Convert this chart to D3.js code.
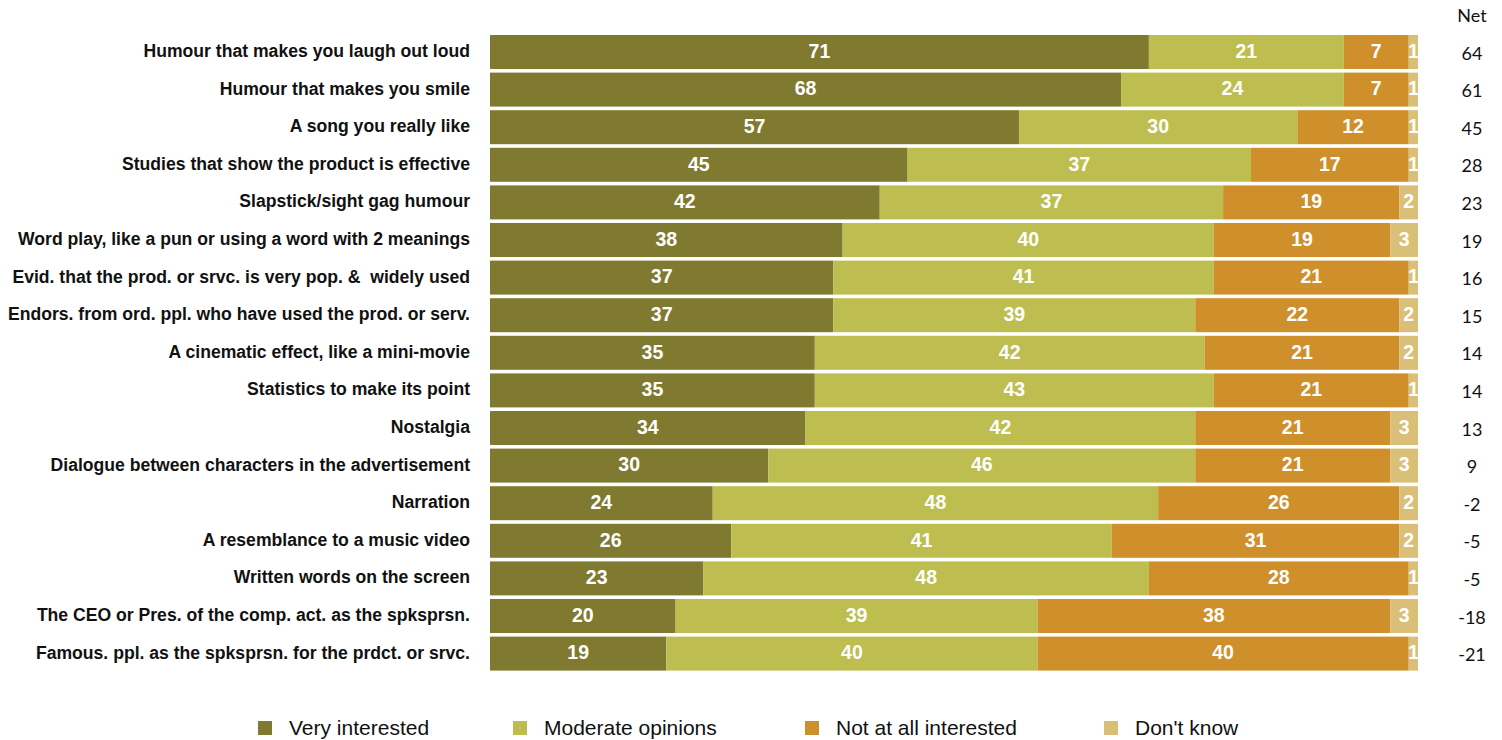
<!DOCTYPE html>
<html>
<head>
<meta charset="utf-8">
<script src="https://cdn.jsdelivr.net/npm/d3@7"></script>
<style>
  html, body { margin: 0; padding: 0; background: #fff; }
  svg { display: block; }
  text { white-space: pre; }
</style>
</head>
<body>
<svg id="chart" width="1502" height="740"></svg>
<script>
// Appeal of advertising elements: share of respondents per response, in percent
const categories = [
  "Humour that makes you laugh out loud",
  "Humour that makes you smile",
  "A song you really like",
  "Studies that show the product is effective",
  "Slapstick/sight gag humour",
  "Word play, like a pun or using a word with 2 meanings",
  "Evid. that the prod. or srvc. is very pop. &  widely used",
  "Endors. from ord. ppl. who have used the prod. or serv.",
  "A cinematic effect, like a mini-movie",
  "Statistics to make its point",
  "Nostalgia",
  "Dialogue between characters in the advertisement",
  "Narration",
  "A resemblance to a music video",
  "Written words on the screen",
  "The CEO or Pres. of the comp. act. as the spksprsn.",
  "Famous. ppl. as the spksprsn. for the prdct. or srvc."
];
const seriesNames = ["Very interested", "Moderate opinions", "Not at all interested", "Don't know"];
const veryInterested = [71, 68, 57, 45, 42, 38, 37, 37, 35, 35, 34, 30, 24, 26, 23, 20, 19];
const moderate       = [21, 24, 30, 37, 37, 40, 41, 39, 42, 43, 42, 46, 48, 41, 48, 39, 40];
const notAtAll       = [ 7,  7, 12, 17, 19, 19, 21, 22, 21, 21, 21, 21, 26, 31, 28, 38, 40];
const dontKnow       = [ 1,  1,  1,  1,  2,  3,  1,  2,  2,  1,  3,  3,  2,  2,  1,  3,  1];
const seriesColors = ["#807a30", "#bdbe4f", "#cf8f2b", "#d9bf78"];

const svg = d3.select("#chart");

const rows = categories.map((c, i) => ({
  category: c,
  values: [veryInterested[i], moderate[i], notAtAll[i], dontKnow[i]],
  net: veryInterested[i] - notAtAll[i]
}));

const x = d3.scaleLinear().domain([0, 100]).range([490, 1418]);
const y = d3.scaleBand().domain(categories)
  .range([33.2, 33.2 + 37.6 * categories.length])
  .paddingInner(0.096).paddingOuter(0.048);

// stacked segments with white value labels
const stack = d3.stack().keys([0, 1, 2, 3]).value((d, k) => d.values[k]);
const layers = stack(rows);

const g = svg.append("g");
layers.forEach((layer, k) => {
  const lg = g.append("g");
  lg.selectAll("rect").data(layer).join("rect")
    .attr("x", d => x(d[0]))
    .attr("y", d => y(d.data.category))
    .attr("width", d => x(d[1]) - x(d[0]))
    .attr("height", y.bandwidth())
    .attr("fill", seriesColors[k]);
  lg.selectAll("text").data(layer).join("text")
    .attr("x", d => (x(d[0]) + x(d[1])) / 2)
    .attr("y", d => y(d.data.category) + y.bandwidth() / 2)
    .attr("dy", "0.3em")
    .attr("text-anchor", "middle")
    .attr("fill", "#fff")
    .attr("font-family", "Liberation Sans, Arial, sans-serif")
    .attr("font-weight", "bold")
    .attr("font-size", 19.5)
    .text(d => d[1] - d[0]);
});

// category labels
svg.append("g").selectAll("text").data(rows).join("text")
  .attr("x", 470)
  .attr("y", d => y(d.category) + y.bandwidth() / 2)
  .attr("dy", "0.28em")
  .attr("text-anchor", "end")
  .attr("fill", "#111")
  .attr("font-family", "Liberation Sans, Arial, sans-serif")
  .attr("font-weight", "bold")
  .attr("font-size", 17.6)
  .text(d => d.category);

// net column
const netX = 1472;
svg.append("text")
  .attr("x", netX).attr("y", 22)
  .attr("text-anchor", "middle")
  .attr("fill", "#111")
  .attr("font-family", "Lato, sans-serif")
  .attr("font-size", 18)
  .text("Net");
svg.append("g").selectAll("text").data(rows).join("text")
  .attr("x", netX)
  .attr("y", d => y(d.category) + y.bandwidth() / 2)
  .attr("dy", "0.42em")
  .attr("text-anchor", "middle")
  .attr("fill", "#111")
  .attr("font-family", "Lato, sans-serif")
  .attr("font-size", 18)
  .text(d => d.net);

// legend
const legendX = [258, 513, 805, 1104];
const legend = svg.append("g").selectAll("g").data(seriesNames).join("g")
  .attr("transform", (d, i) => `translate(${legendX[i]},721)`);
legend.append("rect")
  .attr("width", 14).attr("height", 14)
  .attr("fill", (d, i) => seriesColors[i]);
legend.append("text")
  .attr("x", 31).attr("y", 7)
  .attr("dy", "0.35em")
  .attr("fill", "#111")
  .attr("font-family", "Liberation Sans, Arial, sans-serif")
  .attr("font-size", 21)
  .text(d => d);
</script>
</body>
</html>
